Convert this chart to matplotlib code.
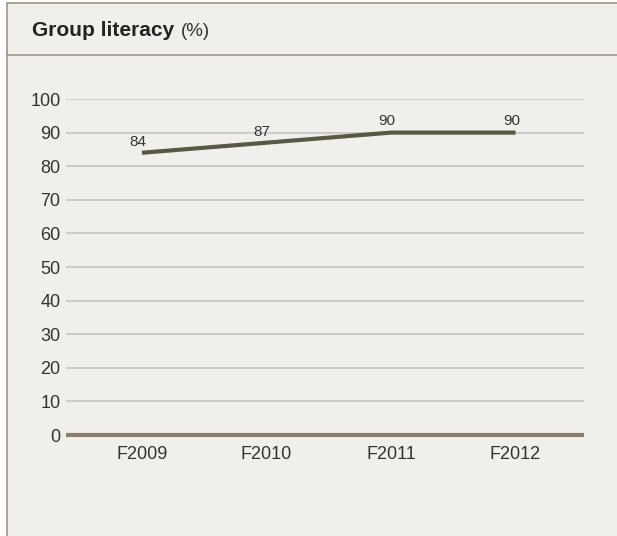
import matplotlib.pyplot as plt
from matplotlib.patches import Rectangle
from matplotlib.lines import Line2D

# %% Dados
anos = ['F2009', 'F2010', 'F2011', 'F2012']
literacia = [84, 87, 90, 90]
yticks = [0, 10, 20, 30, 40, 50, 60, 70, 80, 90, 100]

plt.rcParams['font.family'] = ['Liberation Sans Narrow', 'Liberation Sans', 'DejaVu Sans']

fundo = '#f1efeb'
borda = '#a39483'

fig = plt.figure(figsize=(6.17, 5.36), dpi=100)
fig.patch.set_facecolor('white')
W, H = 617, 536

# moldura e cabeçalho (atrás dos eixos)
fig.patches.append(Rectangle((7 / W, -0.1), 1.0, 1 - 3 / H + 0.1, transform=fig.transFigure,
                             facecolor=fundo, edgecolor=borda, linewidth=1.2, zorder=-5))
fig.lines.append(Line2D([7 / W, 1], [1 - 55 / H, 1 - 55 / H], transform=fig.transFigure,
                        color=borda, linewidth=1.2, zorder=-4))
t = fig.text(32 / W, 1 - 31 / H, 'Group literacy', fontsize=15, fontweight='bold',
             color='#222222', va='center')
fig.canvas.draw()
bb = t.get_window_extent()
fig.text(bb.x1 / W + 7 / W, 1 - 32 / H, '(%)', fontsize=13.5, color='#333333', va='center')

# %% Eixos
ax = fig.add_axes([66 / W, 1 - 435 / H, (584 - 66) / W, (435 - 99) / H])
ax.set_facecolor(fundo)
x = list(range(len(anos)))
ax.set_xlim(-0.61, 3.55)
ax.set_ylim(0, 100)

for v in yticks[1:]:
    ax.axhline(v, color='#c9c8c6', linewidth=1.3, zorder=1)
ax.axhline(0, color='#8c7b69', linewidth=3, zorder=3, clip_on=False, solid_capstyle='butt')

ax.plot(x, literacia, color='#5a5745', linewidth=3, solid_capstyle='butt', zorder=4)
for xi, v in zip(x, literacia):
    ax.annotate(str(v), (xi, v), xytext=(-3, 3), textcoords='offset points',
                ha='center', va='bottom', fontsize=11, color='#333333')

ax.set_xticks(x)
ax.set_xticklabels(anos)
ax.set_yticks(yticks)
ax.tick_params(length=0, labelsize=13, labelcolor='#333333')
ax.tick_params(axis='x', pad=8)
ax.tick_params(axis='y', pad=4)
for s in ax.spines.values():
    s.set_visible(False)

fig.savefig('out.png', dpi=100, facecolor=fig.get_facecolor())
